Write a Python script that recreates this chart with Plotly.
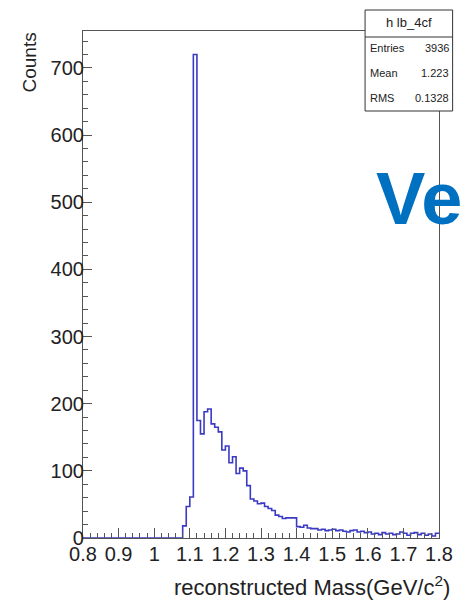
import plotly.graph_objects as go

# Histogram hlb_4cf: 100 bins of 0.01 GeV/c^2 between 0.8 and 1.8
x_min = 0.8
bin_width = 0.01
counts = [
    0, 0, 0, 0, 0, 0, 0, 0, 0, 0,            # 0.80 - 0.90
    0, 0, 0, 0, 0, 0, 0, 0, 0, 0,            # 0.90 - 1.00
    0, 0, 0, 0, 0, 0, 0, 0, 18, 47,          # 1.00 - 1.10
    61, 720, 175, 155, 188, 192, 170, 165, 158, 131,   # 1.10 - 1.20
    137, 112, 121, 96, 104, 100, 78, 58, 55, 51,       # 1.20 - 1.30
    52, 47, 44, 41, 34, 32, 29, 30, 30, 30,            # 1.30 - 1.40
    17, 16, 19, 15, 14, 14, 12, 13, 11, 12,            # 1.40 - 1.50
    13, 11, 12, 10, 9, 11, 12, 9, 10, 8,               # 1.50 - 1.60
    9, 6, 7, 5, 8, 6, 7, 5, 6, 9,                      # 1.60 - 1.70
    7, 4, 7, 8, 5, 7, 4, 6, 3, 7,                      # 1.70 - 1.80
]
x_tick_vals = [0.8, 0.9, 1.0, 1.1, 1.2, 1.3, 1.4, 1.5, 1.6, 1.7, 1.8]
x_tick_text = ["0.8", "0.9", "1", "1.1", "1.2", "1.3", "1.4", "1.5", "1.6", "1.7", "1.8"]
stats_name = "h lb_4cf"
stats_rows = [("Entries", "3936"), ("Mean", "1.223"), ("RMS", "0.1328")]

edges = [round(x_min + i * bin_width, 4) for i in range(len(counts) + 1)]
step_x = edges
step_y = counts + [counts[-1]]

W, H = 465, 601
L, R, T, B = 83, 16, 31, 63
PW, PH = W - L - R, H - T - B


def px_x(px):
    return (px - L) / PW


def px_y(py):
    return (H - B - py) / PH


FONT = "Liberation Sans, Arial, sans-serif"
AX = "#555555"

fig = go.Figure()
fig.add_trace(go.Scatter(
    x=step_x, y=step_y, mode="lines",
    line=dict(shape="hv", color="#3a3ac4", width=1.6),
    hoverinfo="skip", showlegend=False,
))

fig.update_layout(
    width=W, height=H,
    margin=dict(l=L, r=R, t=T, b=B),
    paper_bgcolor="white", plot_bgcolor="white",
    font=dict(family=FONT, color="#222222"),
    xaxis=dict(
        range=[0.8, 1.8], tickmode="array", tickvals=x_tick_vals, ticktext=x_tick_text,
        ticks="inside", ticklen=10, tickcolor=AX, tickwidth=1,
        minor=dict(dtick=0.02, ticks="inside", ticklen=5, tickcolor=AX, tickwidth=1, showgrid=False),
        showline=True, linecolor=AX, linewidth=1.2, mirror=True, ticklabelstandoff=-2,
        showgrid=False, zeroline=False, tickfont=dict(size=20, family=FONT, color="#222"),
    ),
    yaxis=dict(
        range=[0, 755], dtick=100, tick0=0,
        ticks="inside", ticklen=9, tickcolor=AX, tickwidth=1,
        minor=dict(dtick=20, ticks="inside", ticklen=5, tickcolor=AX, tickwidth=1, showgrid=False),
        showline=True, linecolor=AX, linewidth=1.2, mirror=True, ticklabelstandoff=-6,
        showgrid=False, zeroline=False, tickfont=dict(size=20, family=FONT, color="#222"),
    ),
)

# axis titles, aligned to the axis ends
fig.add_annotation(
    text="reconstructed Mass(GeV/c<sup>2</sup>)", xref="paper", yref="paper",
    x=px_x(461), y=px_y(586), xanchor="right", yanchor="middle", showarrow=False,
    font=dict(size=22, family=FONT, color="#222"), borderpad=0,
)
fig.add_annotation(
    text="Counts", xref="paper", yref="paper", textangle=-90,
    x=px_x(27), y=px_y(31), xanchor="center", yanchor="top", showarrow=False,
    font=dict(size=19, family=FONT, color="#222"),
)

# statistics box
box_l, box_r, box_t, box_b = 373, 463, 10, 111
sep_y = 37
fig.add_shape(type="rect", xref="paper", yref="paper",
              x0=px_x(box_l), x1=px_x(box_r), y0=px_y(box_b), y1=px_y(box_t),
              line=dict(color="#333", width=1), fillcolor="white", layer="above")
fig.add_shape(type="line", xref="paper", yref="paper",
              x0=px_x(box_l), x1=px_x(box_r), y0=px_y(sep_y), y1=px_y(sep_y),
              line=dict(color="#333", width=1), layer="above")
fig.add_annotation(text=stats_name, xref="paper", yref="paper",
                   x=px_x((box_l + box_r) / 2), y=px_y(23), xanchor="center", yanchor="middle",
                   showarrow=False, font=dict(size=13, family=FONT, color="#222"))
for i, (lab, val) in enumerate(stats_rows):
    yy = px_y(48 + i * 25)
    fig.add_annotation(text=lab, xref="paper", yref="paper", x=px_x(box_l + 3), y=yy,
                       xanchor="left", yanchor="middle", showarrow=False,
                       font=dict(size=11, family=FONT, color="#222"))
    fig.add_annotation(text=val, xref="paper", yref="paper", x=px_x(box_r - 2), y=yy,
                       xanchor="right", yanchor="middle", showarrow=False,
                       font=dict(size=11, family=FONT, color="#222"))

# large blue heading text on the right
fig.add_annotation(text="<b>Ve</b>", xref="paper", yref="paper",
                   x=px_x(382), y=px_y(198), xanchor="left", yanchor="middle",
                   showarrow=False, font=dict(size=74, family=FONT, color="#0070C0"))

fig.write_html("out.html")
